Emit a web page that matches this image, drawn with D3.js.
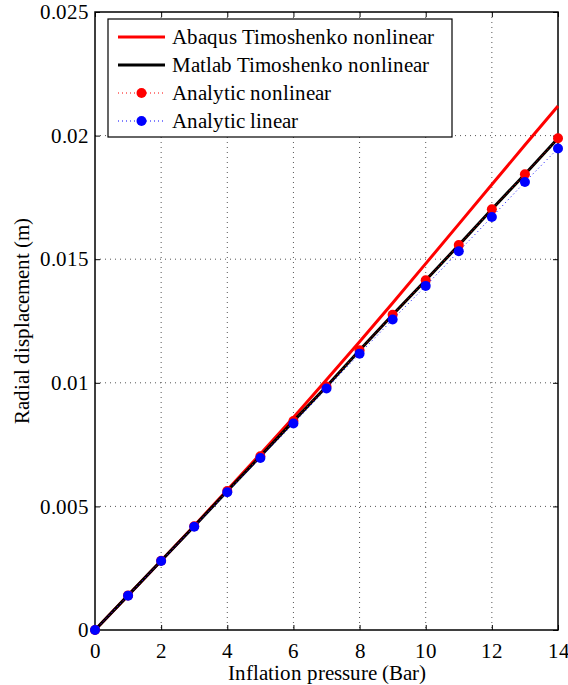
<!DOCTYPE html>
<meta charset="utf-8">
<title>Radial displacement vs inflation pressure</title>
<script src="https://d3js.org/d3.v7.min.js"></script>
<style>
  @font-face { font-family: "ChartSerif"; src: local("Liberation Serif"), local("LiberationSerif"), local("Times New Roman"); }
  body { margin: 0; background: #fff; font-family: "ChartSerif", "Liberation Serif", serif; }
  svg text { font-family: "ChartSerif", "Liberation Serif", serif !important; }
</style>
<div id="chart"></div>
<script>
// pressure (Bar)
var pressure = [0, 1, 2, 3, 4, 5, 6, 7, 8, 9, 10, 11, 12, 13, 14];
// radial displacement (m)
var abaqusNonlinear = [0, 0.0014, 0.0028, 0.00422, 0.00566, 0.00712, 0.0086, 0.01012, 0.01166, 0.01323, 0.01482, 0.01642, 0.01802, 0.01962, 0.0212];
var matlabNonlinear = [0, 0.0014, 0.0028, 0.0042, 0.00562, 0.00703, 0.00845, 0.00985, 0.01132, 0.01275, 0.01415, 0.01557, 0.01702, 0.01844, 0.01989];
var analyticNonlinear = [0, 0.0014, 0.0028, 0.0042, 0.00562, 0.00703, 0.00845, 0.00985, 0.01132, 0.01275, 0.01415, 0.01557, 0.01702, 0.01844, 0.01989];
var analyticLinear = [0, 0.00139, 0.00279, 0.00418, 0.00557, 0.00696, 0.00835, 0.00977, 0.01118, 0.01256, 0.01392, 0.01532, 0.01671, 0.01812, 0.01948];

var xTicks = [0, 2, 4, 6, 8, 10, 12, 14];
var yTicks = [0, 0.005, 0.01, 0.015, 0.02, 0.025];
var legendLabels = ["Abaqus Timoshenko nonlinear", "Matlab Timoshenko nonlinear", "Analytic nonlinear", "Analytic linear"];

var FONT = "ChartSerif, 'Liberation Serif', serif";
var FS = 21;
var W = 568, H = 685;
var margin = {top: 12, right: 10, bottom: 55, left: 95};
var width = W - margin.left - margin.right,
    height = H - margin.top - margin.bottom;

var root = d3.select("#chart").append("svg")
    .attr("width", W).attr("height", H);
var svg = root.append("g")
    .attr("transform", "translate(" + margin.left + "," + margin.top + ")");

var x = d3.scaleLinear().domain([0, 14]).range([0, width]);
var y = d3.scaleLinear().domain([0, 0.025]).range([height, 0]);

// grid
svg.append("g")
  .selectAll("line").data(xTicks.slice(1, -1)).enter().append("line")
    .attr("x1", d => x(d)).attr("x2", d => x(d))
    .attr("y1", 0).attr("y2", height)
    .attr("stroke", "#555").attr("stroke-dasharray", "1,4");
svg.append("g")
  .selectAll("line").data(yTicks.slice(1, -1)).enter().append("line")
    .attr("y1", d => y(d)).attr("y2", d => y(d))
    .attr("x1", 0).attr("x2", width)
    .attr("stroke", "#555").attr("stroke-dasharray", "1,4");

// axes (ticks inward, box on)
var yFmt = d => d === 0 ? "0" : String(+d.toFixed(3));
function clean(g) {
  g.select(".domain").remove();
  g.attr("font-family", null).attr("font-size", FS);
  g.selectAll(".tick line").attr("stroke", "#000");
  g.selectAll(".tick text").attr("fill", "#000");
}
svg.append("g")
    .attr("transform", "translate(0," + height + ")")
    .call(d3.axisBottom(x).tickValues(xTicks).tickSizeInner(-5).tickSizeOuter(0).tickPadding(13))
    .call(clean);
svg.append("g")
    .call(d3.axisTop(x).tickValues(xTicks).tickSizeInner(-5).tickSizeOuter(0).tickFormat(""))
    .call(clean);
svg.append("g")
    .call(d3.axisLeft(y).tickValues(yTicks).tickSizeInner(-5).tickSizeOuter(0).tickPadding(6).tickFormat(yFmt))
    .call(clean);
svg.append("g")
    .attr("transform", "translate(" + width + ",0)")
    .call(d3.axisRight(y).tickValues(yTicks).tickSizeInner(-5).tickSizeOuter(0).tickFormat(""))
    .call(clean);

svg.append("rect")
    .attr("width", width).attr("height", height)
    .attr("fill", "none").attr("stroke", "#000").attr("stroke-width", 1.5);

// series
var line = d3.line().x((d, i) => x(pressure[i])).y(d => y(d));

svg.append("path").datum(abaqusNonlinear)
    .attr("d", line).attr("fill", "none").attr("stroke", "#ff0000").attr("stroke-width", 3);
svg.append("path").datum(matlabNonlinear)
    .attr("d", line).attr("fill", "none").attr("stroke", "#000").attr("stroke-width", 3);

function dotted(vals, color) {
  svg.append("path").datum(vals)
      .attr("d", line).attr("fill", "none").attr("stroke", color)
      .attr("stroke-width", 1).attr("stroke-dasharray", "1,3");
  svg.append("g").selectAll("circle").data(vals).enter().append("circle")
      .attr("cx", (d, i) => x(pressure[i])).attr("cy", d => y(d))
      .attr("r", 5).attr("fill", color);
}
dotted(analyticNonlinear, "#ff0000");
dotted(analyticLinear, "#0000ff");

// axis titles
svg.append("text")
    .attr("x", width / 2).attr("y", height + 50)
    .attr("text-anchor", "middle")
    .attr("font-size", FS)
    .text("Inflation pressure (Bar)");
svg.append("text")
    .attr("transform", "translate(" + (29 - margin.left) + "," + (height / 2) + ") rotate(-90)")
    .attr("text-anchor", "middle")
    .attr("font-size", FS)
    .text("Radial displacement (m)");

// legend
var leg = svg.append("g").attr("transform", "translate(13,7)");
leg.append("rect")
    .attr("width", 344).attr("height", 118)
    .attr("fill", "#fff").attr("stroke", "#000").attr("stroke-width", 1.2);
var styles = [
  {color: "#ff0000", dash: null, w: 3, marker: false},
  {color: "#000", dash: null, w: 3, marker: false},
  {color: "#ff0000", dash: "1,3", w: 1, marker: true},
  {color: "#0000ff", dash: "1,3", w: 1, marker: true}
];
legendLabels.forEach(function(lbl, i) {
  var cy = 18 + i * 28, s = styles[i];
  leg.append("line")
      .attr("x1", 10).attr("x2", 57).attr("y1", cy).attr("y2", cy)
      .attr("stroke", s.color).attr("stroke-width", s.w)
      .attr("stroke-dasharray", s.dash);
  if (s.marker) {
    leg.append("circle").attr("cx", 33.5).attr("cy", cy).attr("r", 5).attr("fill", s.color);
  }
  leg.append("text")
      .attr("x", 64).attr("y", cy + 7)
      .attr("font-size", FS)
      .text(lbl);
});

root.selectAll("text").each(function() {
  this.style.setProperty("font-family", FONT, "important");
});
</script>
